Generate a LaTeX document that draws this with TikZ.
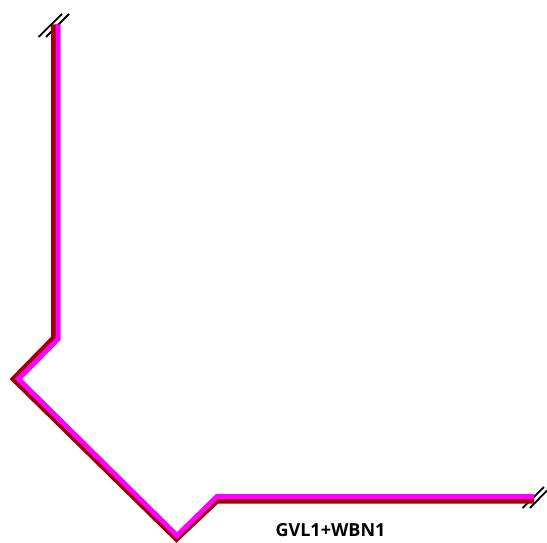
\documentclass[tikz,border=0pt]{standalone}
\usepackage{fontspec}
\setmainfont{Open Sans}
\definecolor{darkline}{RGB}{160,0,0}
\definecolor{magline}{RGB}{255,0,255}
\tikzset{
  x=1pt,y=-1pt,
  darkduct/.style={darkline,line width=5.5pt,line join=miter,miter limit=10},
  magduct/.style={magline,line width=5pt,line join=miter,miter limit=10},
  tick/.style={black,line width=1.8pt}
}
\begin{document}
\begin{tikzpicture}
\useasboundingbox (0,0) rectangle (547,543);
\coordinate (d1) at (53.75,24.5);
\coordinate (d2) at (53.75,338);
\coordinate (d3) at (13.5,379);
\coordinate (d4) at (176.5,539);
\coordinate (d5) at (217,500.75);
\coordinate (d6) at (534,500.75);
\coordinate (m1) at (58,24.5);
\coordinate (m2) at (58,339);
\coordinate (m3) at (18.5,379);
\coordinate (m4) at (177,535.5);
\coordinate (m5) at (217,496.5);
\coordinate (m6) at (534,496.5);
\coordinate (t1a) at (38.5,37);
\coordinate (t1b) at (62,14);
\coordinate (t2a) at (46,37);
\coordinate (t2b) at (69,14);
\coordinate (t3a) at (522.5,508);
\coordinate (t3b) at (544,487);
\coordinate (t4a) at (530,508);
\coordinate (t4b) at (547,490.5);
\draw[tick] (t1a) -- (t1b);
\draw[tick] (t2a) -- (t2b);
\draw[tick] (t3a) -- (t3b);
\draw[tick] (t4a) -- (t4b);
\draw[darkduct] (d1) -- (d2) -- (d3) -- (d4) -- (d5) -- (d6);
\draw[magduct] (m1) -- (m2) -- (m3) -- (m4) -- (m5) -- (m6);
\node[inner sep=0pt,font=\bfseries\fontsize{18}{20}\selectfont] (label) at (330.5,530) {GVL1+WBN1};
\end{tikzpicture}
\end{document}
